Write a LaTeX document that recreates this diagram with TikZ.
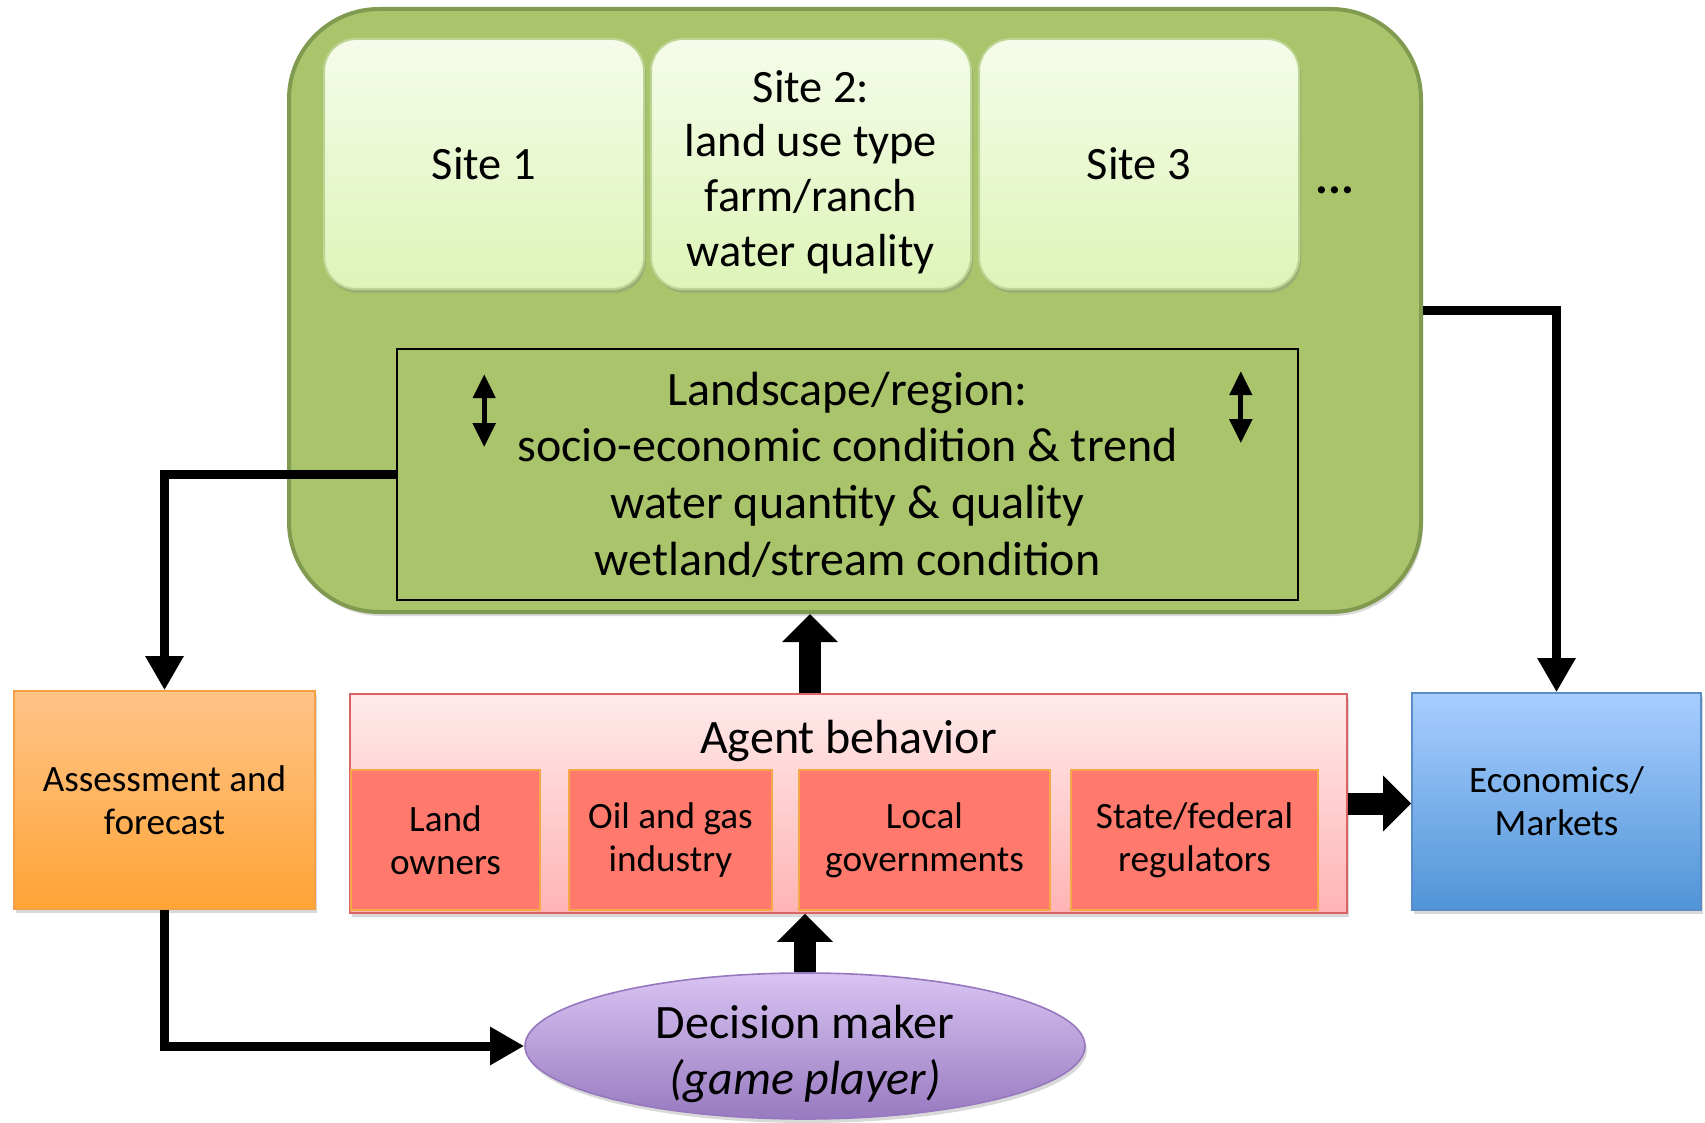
\documentclass[tikz,border=0pt]{standalone}
\usepackage{fontspec}
\setmainfont{Carlito}
\usepackage{tikz}
\usetikzlibrary{arrows.meta,calc,positioning,shapes.geometric,shadows}

\definecolor{greenfill}{RGB}{170,196,108}
\definecolor{greenline}{RGB}{128,154,80}
\definecolor{sitetop}{RGB}{245,252,234}
\definecolor{sitebot}{RGB}{222,244,184}
\definecolor{siteline}{RGB}{188,212,148}
\definecolor{agenttop}{RGB}{255,234,234}
\definecolor{agentbot}{RGB}{255,180,180}
\definecolor{agentline}{RGB}{218,100,100}
\definecolor{actorfill}{RGB}{255,122,108}
\definecolor{actorline}{RGB}{244,168,72}
\definecolor{assesstop}{RGB}{255,196,136}
\definecolor{assessbot}{RGB}{255,164,54}
\definecolor{assessline}{RGB}{245,160,70}
\definecolor{econtop}{RGB}{168,206,255}
\definecolor{econbot}{RGB}{80,148,215}
\definecolor{econline}{RGB}{90,140,200}
\definecolor{dmtop}{RGB}{216,196,242}
\definecolor{dmbot}{RGB}{152,122,192}
\definecolor{dmline}{RGB}{150,120,190}

\begin{document}
\begin{tikzpicture}[x=0.5pt,y=-0.5pt,
bigfont/.style={font=\fontsize{24}{28.3}\selectfont},
sitefont/.style={font=\fontsize{23.2}{27.3}\selectfont},
smallfont/.style={font=\fontsize{18.6}{21.5}\selectfont},
softshadow/.style={drop shadow={opacity=0.3,shadow xshift=1pt,shadow yshift=-2pt}},
outerbox/.style={rectangle, rounded corners=45pt, draw=greenline, line width=2pt, fill=greenfill, minimum width=566pt, minimum height=301.5pt, softshadow},
sitebox/.style={rectangle, rounded corners=16pt, draw=siteline, line width=1pt, top color=sitetop, bottom color=sitebot, minimum width=160pt, minimum height=125pt, sitefont, softshadow},
landbox/.style={rectangle, draw=black, line width=0.8pt, minimum width=450.5pt, minimum height=125.5pt, bigfont},
agentbox/.style={rectangle, draw=agentline, line width=0.8pt, top color=agenttop, bottom color=agentbot, minimum width=498.5pt, minimum height=109.5pt, softshadow},
actorbox/.style={rectangle, draw=actorline, line width=0.6pt, fill=actorfill, minimum height=70pt, smallfont},
assessbox/.style={rectangle, draw=assessline, line width=0.8pt, top color=assesstop, bottom color=assessbot, minimum width=150.5pt, minimum height=109pt, smallfont, softshadow},
econbox/.style={rectangle, draw=econline, line width=0.8pt, top color=econtop, bottom color=econbot, minimum width=144.5pt, minimum height=108.5pt, smallfont, softshadow},
dmbox/.style={ellipse, draw=dmline, line width=0.8pt, top color=dmtop, bottom color=dmbot, minimum width=280pt, minimum height=73pt, inner sep=0pt, softshadow},
thinarrow/.style={line width=4.5pt, -{Triangle[width=18pt,length=17pt]}},
fatarrow/.style={line width=11pt, -{Triangle[width=27pt,length=14pt]}},
dblarrow/.style={line width=2.5pt, {Triangle[width=11pt,length=12pt]}-{Triangle[width=11pt,length=12pt]}},
nodes = {align = center}
]
\useasboundingbox (0,0) rectangle (1705,1123);
%Nodes
\node[outerbox] (outer) at (855,310.5) {};
\node[sitebox] (site1) at (484,164) {Site 1};
\node[sitebox] (site2) [right=2.5pt of site1] {\rule{0pt}{24pt}Site 2:\\land use type\\farm/ranch\\water quality};
\node[sitebox] (site3) [right=3pt of site2] {Site 3};
\node[bigfont] (more) at (1335,190) {\textbf{...}};
\node[landbox] (land) at (847.5,474.5)
	{Landscape/region:\\
	socio-economic condition \& trend\\
	water quantity \& quality\\
	wetland/stream condition};

\node[agentbox] (agent) at (848.5,803.5) {};
\node[bigfont] (agenttitle) at ([yshift=-24pt]agent.north) {Agent behavior};
\node[actorbox, minimum width=94.5pt]  (owners)     at (445.5,840)  {Land\\owners};
\node[actorbox, minimum width=101.5pt] (industry)   at (670.5,840)  {Oil and gas\\industry};
\node[actorbox, minimum width=125.5pt] (locals)     at (924.5,840)  {Local\\governments};
\node[actorbox, minimum width=123.5pt] (regulators) at (1194.5,840) {State/federal\\regulators};

\node[assessbox] (assess) at (164.5,800) {Assessment and\\forecast};
\node[econbox]   (econ)   at (1556.5,801.5) {Economics/\\Markets};
\node[dmbox]     (dm)     at (805,1046) {};
\node[bigfont]   (dmtext) at ([yshift=-4pt]dm.center) {Decision maker\\\textit{(game player)}};

%Lines
\draw[thinarrow] (land.west) -| (assess.north);
\draw[thinarrow] (outer.east) -| (econ.north);
\draw[fatarrow] ($(dm.north |- agent.north)+(5,0)$) -- ($(dm.north |- outer.south)+(5,0)$);
\draw[fatarrow] (agent.east) -- (agent.east -| econ.west);
\draw[fatarrow] (dm.north) -- (dm.north |- agent.south);
\draw[thinarrow] (assess.south) |- (dm.west);
\draw[dblarrow] ($(land.north west)+(88,26)$) -- ($(land.north west)+(88,99)$);
\draw[dblarrow] ($(land.north east)+(-58,23)$) -- ($(land.north east)+(-58,95)$);

\end{tikzpicture}
\end{document}
